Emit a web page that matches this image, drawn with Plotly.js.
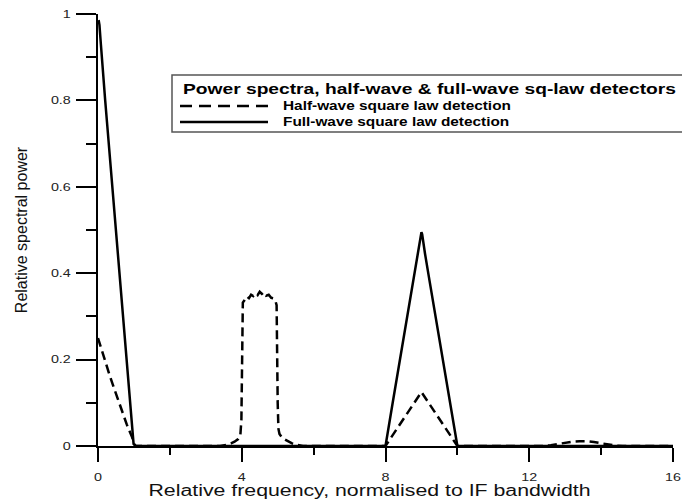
<!DOCTYPE html>
<html><head><meta charset="utf-8">
<script src="https://cdn.plot.ly/plotly-3.0.1.min.js"></script>
<style>html,body{margin:0;padding:0;background:#fff}</style>
</head><body><div id="chart" style="width:682px;height:501px"></div>
<script>
// ---- data ----
const fullX = [0.017,0.04,0.08,0.1,0.12,0.14,0.16,0.2,0.25,0.3,0.32,0.34,0.4,0.5,0.6,0.7,0.8,0.9,0.99,1.05,8.0,8.2,8.4,8.6,8.73,8.8,8.9,8.95,9.0,9.02,9.05,9.1,9.2,9.4,9.6,9.8,10.0,16];
const fullY = [0.986,0.975,0.93,0.905,0.885,0.870,0.845,0.80,0.75,0.70,0.683,0.66,0.60,0.505,0.40,0.30,0.20,0.10,0.005,0,0,0.1,0.2,0.3,0.365,0.40,0.45,0.475,0.495,0.49,0.47,0.445,0.395,0.297,0.198,0.099,0,0];
const halfX = [0,0.1,0.2,0.3,0.4,0.5,0.6,0.7,0.8,0.9,0.95,1.0,1.05,3.4,3.5,3.6,3.7,3.8,3.9,3.96,3.99,4.01,4.03,4.08,4.14,4.2,4.26,4.32,4.38,4.44,4.5,4.56,4.62,4.68,4.75,4.82,4.88,4.94,4.97,5.0,5.02,5.05,5.1,5.2,5.3,5.4,5.5,5.6,5.7,8.0,9.0,10.0,12.4,12.6,12.8,13.0,13.2,13.4,13.6,13.8,14.0,14.2,14.4,14.6,16];
const halfY = [0.25,0.222,0.195,0.17,0.145,0.12,0.095,0.07,0.05,0.03,0.02,0.005,0,0,0.001,0.003,0.006,0.01,0.016,0.024,0.06,0.32,0.332,0.338,0.346,0.342,0.35,0.347,0.353,0.349,0.357,0.352,0.356,0.348,0.35,0.343,0.342,0.335,0.326,0.1,0.04,0.028,0.022,0.015,0.01,0.006,0.003,0.001,0,0,0.125,0,0,0.002,0.005,0.008,0.010,0.011,0.011,0.009,0.006,0.003,0.001,0,0];
const xTickVals = [0,4,8,12,16];
const xTickText = ['0','4','8','12','16'];
const yTickVals = [0,0.2,0.4,0.6,0.8,1];
const yTickText = ['0','0.2','0.4','0.6','0.8','1'];
const legendTitle = 'Power spectra, half-wave & full-wave sq-law detectors';
const halfName = 'Half-wave square law detection';
const fullName = 'Full-wave square law detection';
const xTitle = 'Relative frequency, normalised to IF bandwidth';
const yTitle = 'Relative spectral power';

// ---- layout constants ----
const W = 682, H = 501;
const M = {l: 98, r: 9, t: 14, b: 55};
const PW = W - M.l - M.r, PH = H - M.t - M.b;
const px = x => (x - M.l) / PW;       // pixel -> paper x
const py = y => (H - M.b - y) / PH;   // pixel -> paper y
const FONT = 'Liberation Sans, Arial, sans-serif';

const traces = [
  {x: fullX, y: fullY, name: fullName, type: 'scatter', mode: 'lines',
   line: {color: '#000', width: 2.5}, showlegend: false},
  {x: halfX, y: halfY, name: halfName, type: 'scatter', mode: 'lines',
   line: {color: '#000', width: 2.5, dash: '9px,5px'}, showlegend: false}
];

const axisCommon = {
  showline: true, linecolor: '#000', linewidth: 2, mirror: false,
  ticks: 'outside', tickcolor: '#000', tickwidth: 2,
  showgrid: false, zeroline: false, tickmode: 'array',
  tickfont: {family: FONT, size: 11, color: '#222'}
};

const layout = {
  width: W, height: H, margin: M,
  paper_bgcolor: '#fff', plot_bgcolor: '#fff',
  showlegend: false,
  font: {family: FONT, color: '#111'},
  xaxis: Object.assign({}, axisCommon, {
    range: [0, 16], tickvals: xTickVals, ticktext: xTickText, ticklen: 14,
    ticklabelstandoff: 6,
    minor: {tickmode: 'linear', tick0: 0, dtick: 2, ticks: 'outside', ticklen: 7, tickwidth: 2, tickcolor: '#000', showgrid: false},
    title: {text: xTitle, font: {family: FONT, size: 16, color: '#111'}, standoff: 3}
  }),
  yaxis: Object.assign({}, axisCommon, {
    range: [0, 1], tickvals: yTickVals, ticktext: yTickText, ticklen: 20,
    ticklabelstandoff: 3,
    minor: {tickmode: 'linear', tick0: 0, dtick: 0.1, ticks: 'outside', ticklen: 10, tickwidth: 2, tickcolor: '#000', showgrid: false},
    title: {text: yTitle, font: {family: FONT, size: 16, color: '#111'}, standoff: 18}
  }),
  shapes: [
    {type: 'rect', xref: 'paper', yref: 'paper', x0: px(172), x1: px(690), y0: py(132), y1: py(75),
     line: {color: '#555', width: 1.5}, fillcolor: 'rgba(255,255,255,0)'},
    {type: 'line', xref: 'paper', yref: 'paper', x0: px(180), x1: px(268), y0: py(106), y1: py(106),
     line: {color: '#000', width: 2.5, dash: '12px,7px'}},
    {type: 'line', xref: 'paper', yref: 'paper', x0: px(180), x1: px(268), y0: py(122), y1: py(122),
     line: {color: '#000', width: 2.5}}
  ],
  annotations: [
    {text: '<b>' + legendTitle + '</b>', xref: 'paper', yref: 'paper', x: px(181), y: py(88),
     xanchor: 'left', yanchor: 'middle', align: 'left', showarrow: false,
     font: {family: FONT, size: 15, color: '#000'}},
    {text: '<b>' + halfName + '</b>', xref: 'paper', yref: 'paper', x: px(281), y: py(106),
     xanchor: 'left', yanchor: 'middle', align: 'left', showarrow: false,
     font: {family: FONT, size: 12, color: '#000'}},
    {text: '<b>' + fullName + '</b>', xref: 'paper', yref: 'paper', x: px(281), y: py(122),
     xanchor: 'left', yanchor: 'middle', align: 'left', showarrow: false,
     font: {family: FONT, size: 12, color: '#000'}}
  ]
};

Plotly.newPlot('chart', traces, layout, {staticPlot: true, displayModeBar: false}).then(gd => {
  // the reference's lettering is horizontally wide; widen horizontal text to match
  const stretch = (sel, f) => gd.querySelectorAll(sel).forEach(t => {
    const w = t.getComputedTextLength();
    if (w > 0) { t.setAttribute('textLength', (w * f).toFixed(1)); t.setAttribute('lengthAdjust', 'spacingAndGlyphs'); }
  });
  stretch('.xtick text', 1.3);
  stretch('.ytick text', 1.3);
  stretch('.g-xtitle text', 1.33);
  stretch('.annotation-text', 1.28);
  // the reference's axis titles sit slightly off Plotly's default spots
  const xt = gd.querySelector('.g-xtitle');
  if (xt) xt.setAttribute('transform', 'translate(-16,0)');
  const yt = gd.querySelector('.g-ytitle');
  if (yt) yt.setAttribute('transform', 'translate(-6,0)');
});
</script>
</body></html>
